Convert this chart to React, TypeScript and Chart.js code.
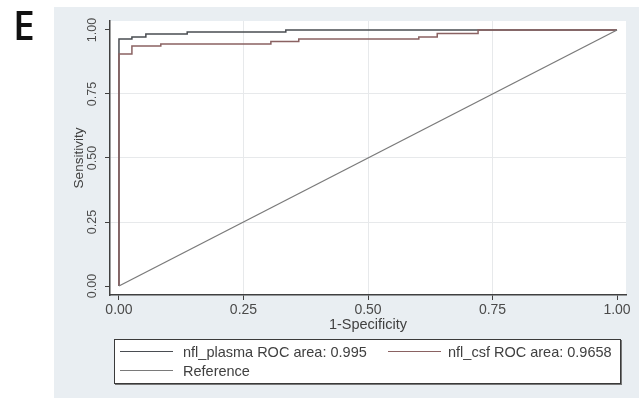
import React, { useEffect, useRef } from "react";
import { Chart, registerables } from "chart.js";

Chart.register(...registerables);

const plasmaFpr = [0, 0, 0.026, 0.054, 0.137, 0.335, 1];
const plasmaTpr = [0, 0.965, 0.973, 0.984, 0.992, 1, 1];
const csfFpr = [0, 0, 0.026, 0.084, 0.305, 0.361, 0.602, 0.639, 0.721, 1];
const csfTpr = [0, 0.906, 0.9375, 0.945, 0.955, 0.965, 0.973, 0.986, 1, 1];
const refFpr = [0, 1];
const refTpr = [0, 1];
const tickValues = [0, 0.25, 0.5, 0.75, 1];
const legendLabels = [
  "nfl_plasma ROC area: 0.995",
  "nfl_csf ROC area: 0.9658",
  "Reference",
];
const panelLabel = "E";
const xTitle = "1-Specificity";
const yTitle = "Sensitivity";

const PLASMA = "#4a4d52";
const CSF = "#8a6262";
const REF = "#7a7a7a";
const FONT = "'Liberation Sans', Arial, sans-serif";

const toPts = (xs: number[], ys: number[]) => xs.map((x, i) => ({ x, y: ys[i] }));

const bgPlugin = {
  id: "bgPanel",
  beforeDraw(chart: any) {
    const { ctx, chartArea } = chart;
    ctx.save();
    ctx.fillStyle = "#e9eef2";
    ctx.fillRect(54, 7, 585, 391);
    ctx.fillStyle = "#ffffff";
    ctx.fillRect(chartArea.left, chartArea.top, chartArea.right - chartArea.left, chartArea.bottom - chartArea.top);
    ctx.restore();
  },
};

export default function App() {
  const ref = useRef<HTMLCanvasElement | null>(null);

  useEffect(() => {
    if (!ref.current) return;
    const gridColor = (c: any) =>
      c.tick && (c.tick.value === 0 || c.tick.value === 1) ? "rgba(0,0,0,0)" : "#e7e9eb";
    const chart = new Chart(ref.current, {
      type: "scatter",
      data: {
        datasets: [
          {
            label: legendLabels[2],
            data: toPts(refFpr, refTpr),
            showLine: true,
            borderColor: REF,
            borderWidth: 1.3,
            pointRadius: 0,
          },
          {
            label: legendLabels[1],
            data: toPts(csfFpr, csfTpr),
            showLine: true,
            stepped: "before",
            borderColor: CSF,
            borderWidth: 1.5,
            pointRadius: 0,
          },
          {
            label: legendLabels[0],
            data: toPts(plasmaFpr, plasmaTpr),
            showLine: true,
            stepped: "before",
            borderColor: PLASMA,
            borderWidth: 1.5,
            pointRadius: 0,
          },
        ],
      },
      options: {
        animation: false,
        responsive: false,
        maintainAspectRatio: false,
        layout: { padding: { left: 0, top: 21, right: 13, bottom: 0 } },
        plugins: { legend: { display: false }, tooltip: { enabled: false } },
        scales: {
          x: {
            type: "linear",
            min: -0.018,
            max: 1.018,
            afterBuildTicks: (s: any) => {
              s.ticks = tickValues.map((v) => ({ value: v }));
            },
            afterFit: (s: any) => {
              s.height = 103;
            },
            ticks: {
              autoSkip: false,
              maxRotation: 0,
              padding: 2,
              color: "#4a4a4a",
              font: { family: FONT, size: 14 },
              callback: (v: any) => Number(v).toFixed(2),
            },
            grid: { color: gridColor, tickColor: "#404040", tickLength: 5, lineWidth: 1 },
            border: { color: "#404040", width: 1.5 },
            title: {
              display: true,
              text: xTitle,
              color: "#404040",
              font: { family: FONT, size: 14.5 },
              padding: { top: 0, bottom: 64 },
            },
          },
          y: {
            type: "linear",
            min: -0.035,
            max: 1.035,
            afterBuildTicks: (s: any) => {
              s.ticks = tickValues.map((v) => ({ value: v }));
            },
            afterFit: (s: any) => {
              s.width = 110;
            },
            ticks: {
              autoSkip: false,
              minRotation: 90,
              maxRotation: 90,
              crossAlign: "center",
              padding: 0,
              color: "#4a4a4a",
              font: { family: FONT, size: 12.5 },
              callback: (v: any) => Number(v).toFixed(2),
            },
            grid: { color: gridColor, tickColor: "#404040", tickLength: 5, lineWidth: 1 },
            border: { color: "#404040", width: 1.5 },
            title: {
              display: true,
              text: yTitle,
              color: "#404040",
              font: { family: FONT, size: 13.5 },
              padding: { top: 71, bottom: 0 },
            },
          },
        },
      },
      plugins: [bgPlugin],
    } as any);
    return () => chart.destroy();
  }, []);

  const textStyle: React.CSSProperties = {
    position: "absolute",
    fontFamily: FONT,
    fontSize: "14.5px",
    color: "#404040",
    whiteSpace: "nowrap",
    lineHeight: "16px",
  };
  const lineSample = (left: number, top: number, color: string): React.CSSProperties => ({
    position: "absolute",
    left,
    top,
    width: 53,
    height: 0,
    borderTop: `1.5px solid ${color}`,
  });

  return (
    <div style={{ position: "fixed", left: 0, top: 0, width: 639, height: 398, overflow: "hidden", background: "#fff" }}>
      <canvas ref={ref} width={639} height={398} style={{ position: "absolute", left: 0, top: 0, width: 639, height: 398 }} />
      <div
        style={{
          position: "absolute",
          left: 13,
          top: 1,
          fontFamily: "'Open Sans', sans-serif",
          fontSize: "39px",
          fontWeight: 600,
          lineHeight: "48px",
          color: "#111",
        }}
      >
        {panelLabel}
      </div>
      <div
        style={{
          position: "absolute",
          left: 114,
          top: 339,
          width: 505,
          height: 43,
          background: "#fff",
          border: "1px solid #3a3a3a",
          boxShadow: "1px 1px 0 #777",
        }}
      >
        <div style={lineSample(5, 11, PLASMA)} />
        <div style={{ ...textStyle, left: 68, top: 4 }}>{legendLabels[0]}</div>
        <div style={lineSample(273, 11, CSF)} />
        <div style={{ ...textStyle, left: 333, top: 4 }}>{legendLabels[1]}</div>
        <div style={lineSample(5, 30, REF)} />
        <div style={{ ...textStyle, left: 68, top: 23 }}>{legendLabels[2]}</div>
      </div>
    </div>
  );
}
